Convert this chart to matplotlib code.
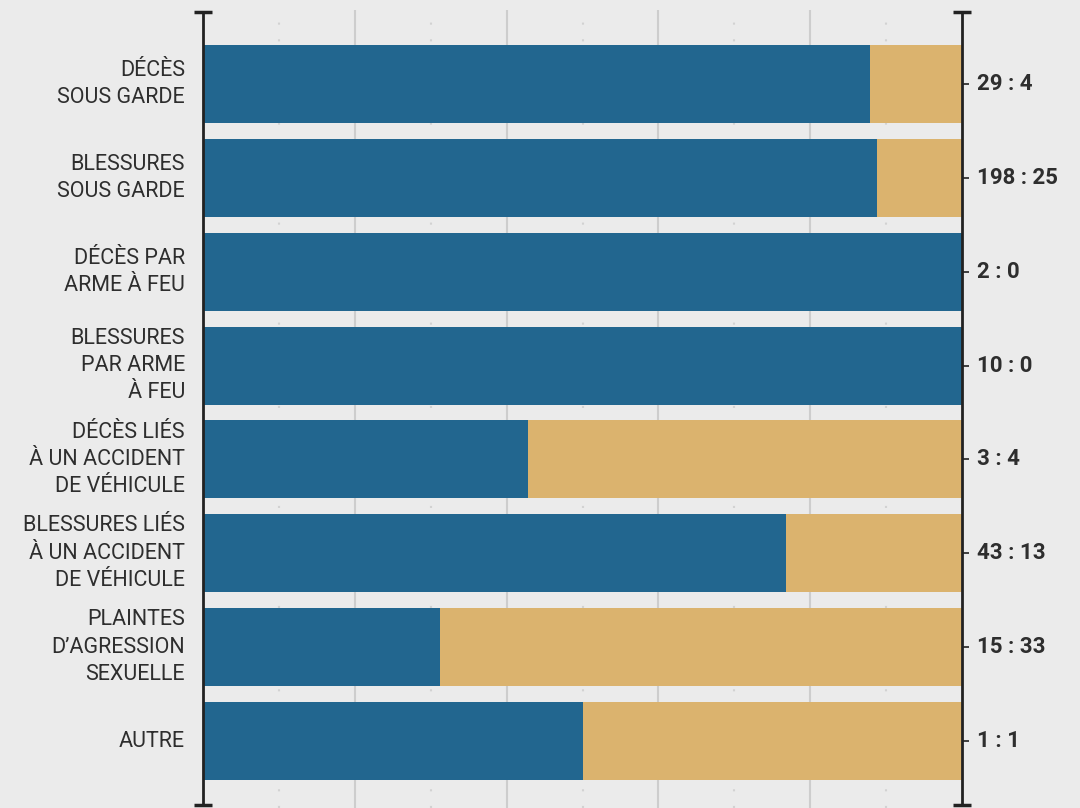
import matplotlib
matplotlib.use("Agg")
import matplotlib.pyplot as plt
from matplotlib import font_manager
import numpy as np

categories = ["DÉCÈS\nSOUS GARDE", "BLESSURES\nSOUS GARDE", "DÉCÈS PAR\nARME À FEU",
              "BLESSURES\nPAR ARME\nÀ FEU", "DÉCÈS LIÉS\nÀ UN ACCIDENT\nDE VÉHICULE",
              "BLESSURES LIÉS\nÀ UN ACCIDENT\nDE VÉHICULE", "PLAINTES\nD’AGRESSION\nSEXUELLE",
              "AUTRE"]
blue_counts = [29, 198, 2, 10, 3, 43, 15, 1]
gold_counts = [4, 25, 0, 0, 4, 13, 33, 1]

names = {f.name for f in font_manager.fontManager.ttflist}
fam = [f for f in ["Roboto", "DejaVu Sans"] if f in names]

BLUE = "#22668F"
GOLD = "#DBB36E"
BG = "#EBEBEB"
TXT = "#2E2E2E"

fig = plt.figure(figsize=(10.8, 8.08), dpi=100, facecolor=BG)
W, H = 1080, 808
x0, x1 = 203, 962
ytop, ybot = 10, 808
ax = fig.add_axes([x0 / W, 1 - ybot / H, (x1 - x0) / W, (ybot - ytop) / H])
ax.set_facecolor(BG)

blue = np.array(blue_counts, float)
gold = np.array(gold_counts, float)
tot = blue + gold
bp = blue / tot
gp = gold / tot
y = np.arange(len(categories))

pitch = 93.86
ax.set_ylim(7 + (808 - 741) / pitch, -(84 - 10) / pitch)
ax.set_xlim(0, 1)

# grid
for gx in [0.2, 0.4, 0.6, 0.8]:
    ax.axvline(gx, color="#CDCDCD", lw=1.5, zorder=0)
for gx in [0.1, 0.3, 0.5, 0.7, 0.9]:
    ax.axvline(gx, color="#D2D2D2", lw=1.5, ls=(0, (1, 7)), zorder=0)

h = 78 / pitch
ax.barh(y, bp, height=h, color=BLUE, zorder=2)
ax.barh(y, gp, left=bp, height=h, color=GOLD, zorder=2)

# spines
for s in ["top", "bottom"]:
    ax.spines[s].set_visible(False)
sp_top = -(84 - 12) / pitch
sp_bot = 7 + (805 - 741) / pitch
for s in ["left", "right"]:
    ax.spines[s].set_color("#222222")
    ax.spines[s].set_linewidth(2.0)
    ax.spines[s].set_bounds(sp_bot, sp_top)
    ax.spines[s].set_zorder(3)
for xx in [0, 1]:
    ax.plot([xx, xx], [sp_top, sp_bot], ls="none", marker="_", ms=12.5, mew=2.5,
            color="#222222", clip_on=False, zorder=4)

ax.set_xticks([])
ax.set_yticks(y)
ax.set_yticklabels(categories, fontsize=15.5, color=TXT, family=fam,
                   linespacing=1.4)
ax.tick_params(axis="y", which="both", left=False, right=True, length=5, width=1.2,
               color="#222222", pad=8, labelright=False)
for lab in ax.get_yticklabels():
    lab.set_horizontalalignment("right")
    lab.set_verticalalignment("center")

for yi, b, g in zip(y, blue_counts, gold_counts):
    ax.text(1.02, yi, f"{b} : {g}", transform=ax.get_yaxis_transform(),
            va="center", ha="left", fontsize=16, fontweight="bold", color=TXT,
            family=fam)

fig.savefig("out.png", dpi=100, facecolor=BG)
